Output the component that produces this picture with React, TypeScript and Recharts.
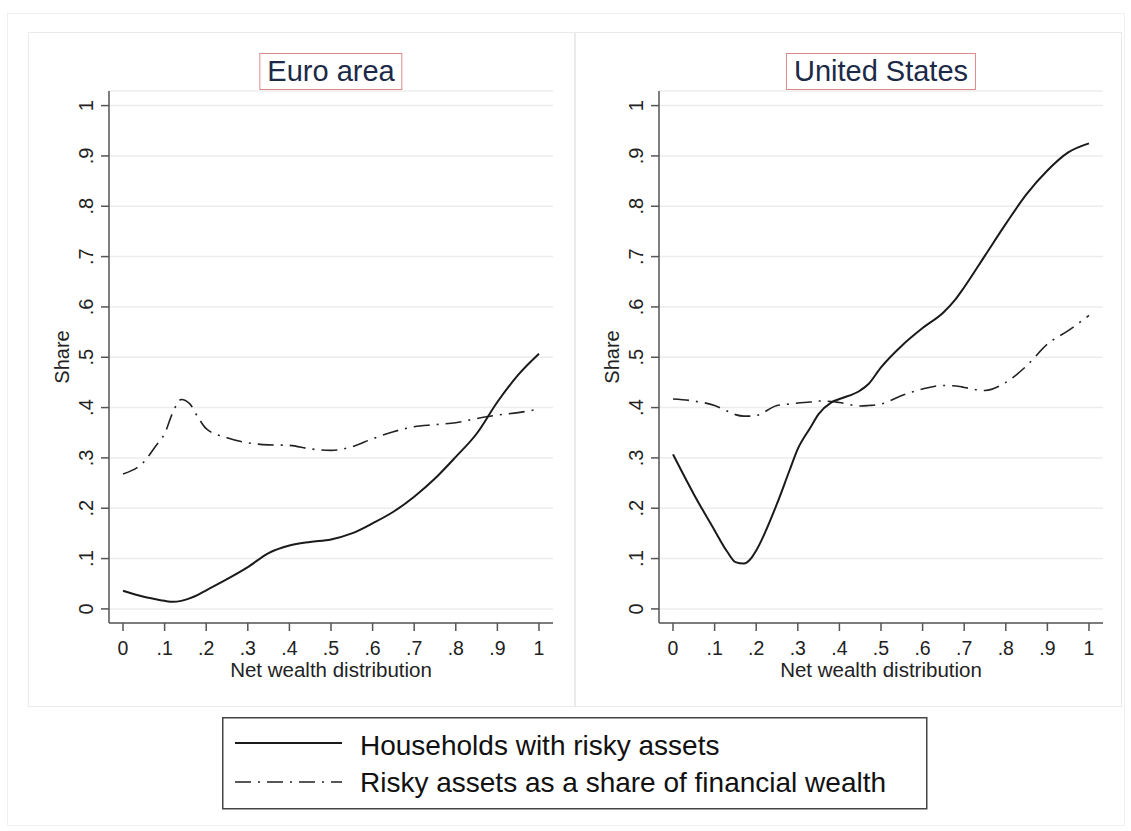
import React from 'react';
import { LineChart, Line, XAxis, YAxis, CartesianGrid } from 'recharts';

// values
const euroX = [0, 0.05, 0.08, 0.1, 0.12, 0.14, 0.16, 0.18, 0.2, 0.25, 0.3, 0.35, 0.4, 0.45, 0.5, 0.55, 0.6, 0.65, 0.7, 0.75, 0.8, 0.85, 0.9, 0.95, 1];
const euroHouseholds = [0.036, 0.024, 0.019, 0.016, 0.014, 0.016, 0.021, 0.028, 0.037, 0.059, 0.083, 0.111, 0.126, 0.133, 0.138, 0.15, 0.17, 0.193, 0.223, 0.259, 0.302, 0.348, 0.411, 0.465, 0.507];
const euroRisky = [0.268, 0.292, 0.325, 0.348, 0.391, 0.416, 0.408, 0.381, 0.358, 0.34, 0.33, 0.326, 0.325, 0.318, 0.315, 0.322, 0.338, 0.352, 0.362, 0.366, 0.37, 0.378, 0.385, 0.39, 0.397];

const usX = [0, 0.05, 0.1, 0.13, 0.15, 0.17, 0.19, 0.2, 0.25, 0.28, 0.3, 0.33, 0.35, 0.38, 0.4, 0.45, 0.47, 0.5, 0.55, 0.6, 0.65, 0.68, 0.7, 0.75, 0.8, 0.85, 0.9, 0.95, 1];
const usHouseholds = [0.307, 0.228, 0.156, 0.114, 0.093, 0.09, 0.103, 0.116, 0.209, 0.275, 0.318, 0.36, 0.387, 0.41, 0.417, 0.434, 0.447, 0.48, 0.523, 0.558, 0.589, 0.616, 0.639, 0.702, 0.765, 0.824, 0.871, 0.907, 0.925];
const usRisky = [0.417, 0.413, 0.404, 0.393, 0.386, 0.383, 0.383, 0.384, 0.404, 0.407, 0.409, 0.411, 0.413, 0.412, 0.41, 0.403, 0.404, 0.407, 0.424, 0.437, 0.444, 0.443, 0.44, 0.434, 0.45, 0.483, 0.526, 0.553, 0.583];

const ticks = [0, 0.1, 0.2, 0.3, 0.4, 0.5, 0.6, 0.7, 0.8, 0.9, 1];
const tickLabels = ['0', '.1', '.2', '.3', '.4', '.5', '.6', '.7', '.8', '.9', '1'];

const seriesNames = ['Households with risky assets', 'Risky assets as a share of financial wealth'];

const FONT = '"Liberation Sans", Arial, sans-serif';
const DASHDOT = '16 7 2 7';

const fmt = (v: number) => tickLabels[Math.round(v * 10)] ?? String(v);

const YTick = (props: any) => {
  const { x, y, payload } = props;
  return (
    <g transform={`translate(${x},${y}) rotate(-90)`}>
      <text textAnchor="middle" fontSize={20} fill="#222" fontFamily={FONT}>
        {fmt(payload.value)}
      </text>
    </g>
  );
};

const shareLabel = (props: any) => {
  const { x, y, width, height } = props.viewBox;
  const cx = x + width - 47;
  const cy = y + height / 2;
  return (
    <text x={cx} y={cy} transform={`rotate(-90, ${cx}, ${cy})`} textAnchor="middle" dominantBaseline="central" fontSize={20} fill="#222" fontFamily={FONT}>
      Share
    </text>
  );
};

const xLabel = (props: any) => {
  const { x, y, width } = props.viewBox;
  return (
    <text x={x + width / 2} y={y + 54} textAnchor="middle" fontSize={20.5} fill="#222" fontFamily={FONT}>
      Net wealth distribution
    </text>
  );
};

function Panel({ title, xs, households, risky, left }: { title: string; xs: number[]; households: number[]; risky: number[]; left: number }) {
  const data = xs.map((x, i) => ({ x, households: households[i], risky: risky[i] }));
  return (
    <div style={{ position: 'absolute', left, top: 32 }}>
      <LineChart width={546} height={674} data={data} margin={{ top: 59, right: 21, bottom: 0, left: 0 }}>
        <CartesianGrid vertical={false} stroke="#ececec" strokeWidth={1.5} />
        <XAxis
          dataKey="x"
          type="number"
          domain={[-0.0337, 1.0337]}
          ticks={ticks}
          tickFormatter={fmt}
          allowDataOverflow
          height={83}
          tickSize={8}
          tickMargin={10}
          stroke="#555"
          strokeWidth={1.5}
          tick={{ fontSize: 19.5, fill: '#222', fontFamily: FONT }}
          label={xLabel}
        />
        <YAxis
          type="number"
          domain={[-0.028, 1.029]}
          ticks={ticks}
          allowDataOverflow
          width={81}
          tickSize={8}
          tickMargin={8}
          stroke="#555"
          strokeWidth={1.5}
          tick={<YTick />}
          label={shareLabel}
        />
        <Line type="monotone" dataKey="risky" name={seriesNames[1]} stroke="#222" strokeWidth={1.6} strokeDasharray={DASHDOT} dot={false} isAnimationActive={false} />
        <Line type="monotone" dataKey="households" name={seriesNames[0]} stroke="#1a1a1a" strokeWidth={2} dot={false} isAnimationActive={false} />
      </LineChart>
      <div
        style={{
          position: 'absolute',
          left: 303,
          top: 21,
          transform: 'translateX(-50%)',
          border: '1.5px solid #dc8a8a',
          padding: '0 7px',
          fontSize: 29,
          lineHeight: '35px',
          color: '#1c2a48',
          fontFamily: FONT,
          whiteSpace: 'nowrap',
          background: '#fff',
        }}
      >
        {title}
      </div>
    </div>
  );
}

export default function App() {
  return (
    <div style={{ position: 'absolute', left: 0, top: 0, width: 1131, height: 831, background: '#fff', fontFamily: FONT }}>
      <div style={{ position: 'absolute', left: 7, top: 13, width: 1116, height: 811, border: '1px solid #f0f0f0' }} />
      <div style={{ position: 'absolute', left: 28, top: 32, width: 545, height: 673, border: '1px solid #ebebeb' }} />
      <div style={{ position: 'absolute', left: 575, top: 32, width: 545, height: 673, border: '1px solid #ebebeb' }} />
      <Panel title="Euro area" xs={euroX} households={euroHouseholds} risky={euroRisky} left={28} />
      <Panel title="United States" xs={usX} households={usHouseholds} risky={usRisky} left={578} />
      <svg style={{ position: 'absolute', left: 222, top: 717 }} width={706} height={93}>
        <rect x={0.75} y={0.75} width={704} height={91} fill="#fff" stroke="#444" strokeWidth={1.5} />
        <line x1={13} x2={120} y1={26} y2={26} stroke="#1a1a1a" strokeWidth={2} />
        <line x1={13} x2={120} y1={65} y2={65} stroke="#222" strokeWidth={1.6} strokeDasharray={DASHDOT} />
        <text x={138} y={38} fontSize={28} fill="#111" fontFamily={FONT}>{seriesNames[0]}</text>
        <text x={138} y={75} fontSize={28} fill="#111" fontFamily={FONT}>{seriesNames[1]}</text>
      </svg>
    </div>
  );
}
